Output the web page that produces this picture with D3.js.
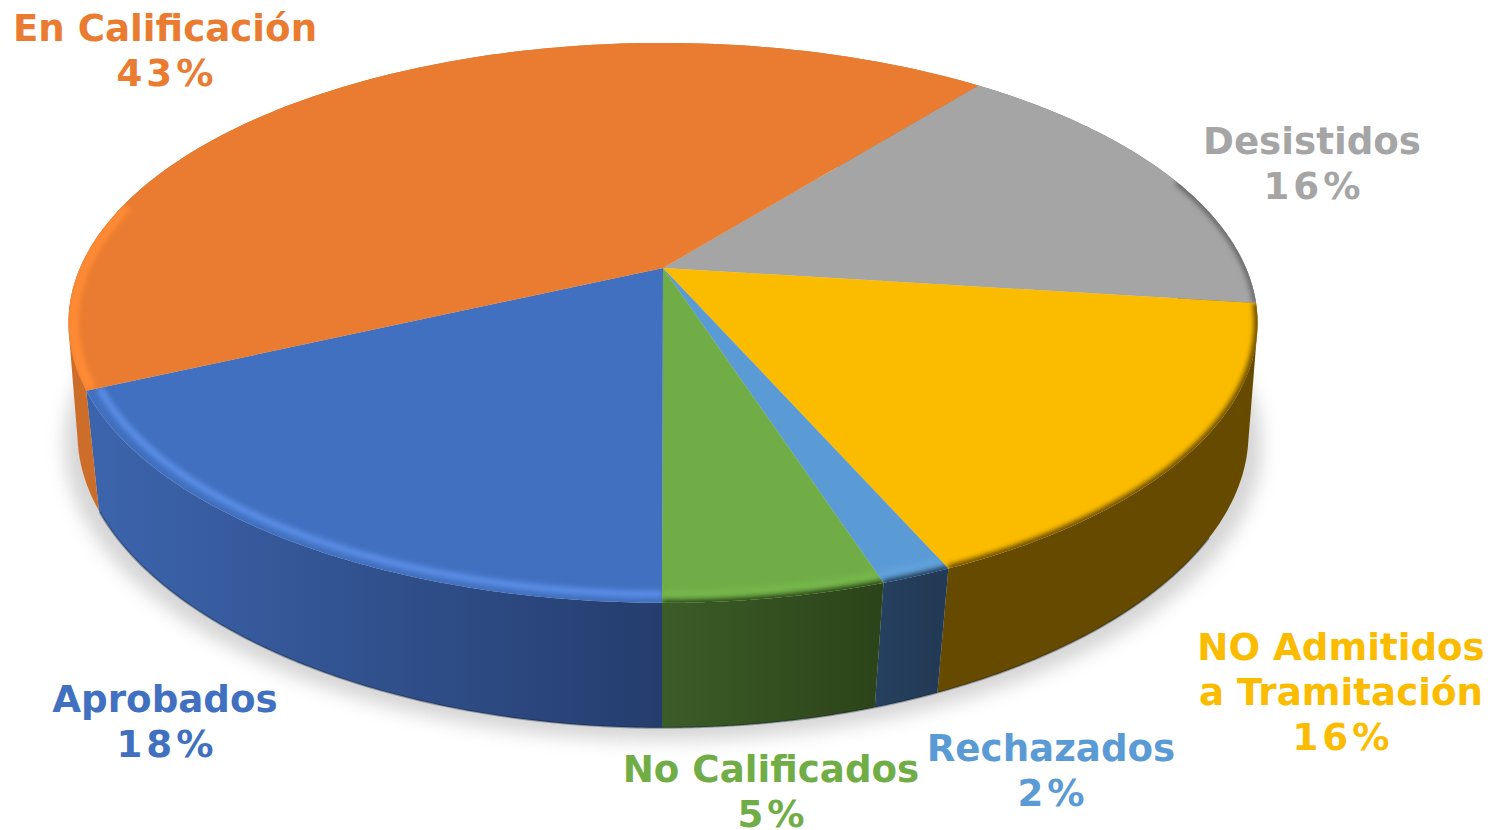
<!DOCTYPE html>
<html>
<head>
<meta charset="utf-8">
<script src="https://cdn.jsdelivr.net/npm/d3@7"></script>
<style>
  html, body { margin: 0; padding: 0; background: #fff; }
  svg { display: block; }
  text { font-family: "DejaVu Sans", sans-serif; font-weight: bold; font-size: 37.2px; text-anchor: middle; }
</style>
</head>
<body>
<svg class="s"></svg>
<script>
// slices run clockwise, starting from the orange/gray border at the back
var categories = ['Desistidos', 'NO Admitidos a Tramitación', 'Rechazados', 'No Calificados', 'Aprobados', 'En Calificación'];
var values = [16.3, 16.4, 1.6, 5.0, 18.1, 42.6];
var labelLines = [['Desistidos'], ['NO Admitidos', 'a Tramitación'], ['Rechazados'], ['No Calificados'], ['Aprobados'], ['En Calificación']];

var topColors = ['#a5a5a5', '#fbbc00', '#5b9bd5', '#70ad47', '#4170c0', '#e97c30'];
var sideLeft = ['#6a6a6a', '#664a00', '#264060', '#3c5c28', '#3c64ac', '#cc6e2a'];
var sideRight = ['#6a6a6a', '#664a00', '#223a55', '#2c4419', '#253d6e', '#cc6e2a'];
var rimColors = [null, null, '#62a2dc', '#76b84b', '#5a8ee6', '#ff8a36'];
var labelX = [1312, 1341, 1051, 771, 165, 165];
var labelY = [154, 660, 761, 782, 712, 41];

var w = 1504;
var h = 830;
var toRad = Math.PI / 180;

var svg = d3.select('.s').attr('width', w).attr('height', h);
var defs = svg.append('defs');

defs.append('filter').attr('id', 'shadowBlur')
  .attr('filterUnits', 'userSpaceOnUse').attr('x', 0).attr('y', 0).attr('width', w).attr('height', h)
  .append('feGaussianBlur').attr('stdDeviation', 9);
defs.append('filter').attr('id', 'rimBlur')
  .attr('filterUnits', 'userSpaceOnUse').attr('x', 0).attr('y', 0).attr('width', w).attr('height', h)
  .append('feGaussianBlur').attr('stdDeviation', 2.8);

// perspective disc: near edge larger than the far edge
var k = 0.196;
var topDisc = {cx: 663, cy: 268, b: 583, a: 269.2, kx: 0.196};
var botDisc = {cx: 663, cy: 385, b: 577, a: 275.6, kx: 0.17};

var project = function(disc, angle, r){
  var u = r * Math.sin(angle);
  var v = -r * Math.cos(angle);
  return [disc.cx + disc.b * u / (1 - disc.kx * v), disc.cy + disc.a * v / (1 - k * v)];
};

var arcPoints = function(disc, a0, a1, r){
  return d3.range(0, 121).map(function(i){
    return project(disc, a0 + (a1 - a0) * i / 120, r);
  });
};

var line = d3.line();

// wall as one path of small quads, so the silhouette stays straight between the two discs
var wallPath = function(a0, a1){
  var t = arcPoints(topDisc, a0, a1, 1);
  var b = arcPoints(botDisc, a0, a1, 1);
  var out = '';
  for(var i = 0; i < t.length - 1; i++){
    var quad = [t[i], t[i + 1], b[i + 1], b[i]];
    if(d3.polygonArea(quad) < 0){ quad.reverse(); }
    out += line(quad) + 'Z';
  }
  return out;
};

var start = 38.6 * toRad;
var pie = d3.pie().sort(null).startAngle(start).endAngle(start + 2 * Math.PI);
var slices = pie(values);

// soft shadow on the floor
var shadowDisc = {cx: 663, cy: 396, b: 590, a: 277, kx: 0.17};
svg.append('path')
  .attr('d', line(arcPoints(shadowDisc, 0, 2 * Math.PI, 1)) + 'Z')
  .attr('fill', '#8c8c8c')
  .attr('opacity', 0.36)
  .attr('filter', 'url(#shadowBlur)');

// side walls
slices.forEach(function(d, i){
  var grad = defs.append('linearGradient').attr('id', 'side' + i)
    .attr('gradientUnits', 'userSpaceOnUse');
  var ends = [project(botDisc, d.startAngle, 1)[0], project(botDisc, d.endAngle, 1)[0]];
  grad.attr('x1', d3.min(ends)).attr('x2', d3.max(ends)).attr('y1', 0).attr('y2', 0);
  grad.append('stop').attr('offset', 0).attr('stop-color', sideLeft[i]);
  grad.append('stop').attr('offset', 1).attr('stop-color', sideRight[i]);

  svg.append('path')
    .attr('d', wallPath(d.startAngle, d.endAngle))
    .attr('fill', 'url(#side' + i + ')');
});

// dark line along the foot of the wall
svg.append('path')
  .attr('d', line(arcPoints(botDisc, 120 * toRad, 245 * toRad, 1)))
  .attr('fill', 'none')
  .attr('stroke', '#0f1c30')
  .attr('stroke-width', 2)
  .attr('opacity', 0.35);

// top faces with bevel
slices.forEach(function(d, i){
  var face = [[topDisc.cx, topDisc.cy]].concat(arcPoints(topDisc, d.startAngle, d.endAngle, 1));
  defs.append('clipPath').attr('id', 'face' + i)
    .append('path').attr('d', line(face) + 'Z');

  svg.append('path')
    .attr('d', line(face) + 'Z')
    .attr('fill', topColors[i]);

  var rim = svg.append('g').attr('clip-path', 'url(#face' + i + ')')
    .append('g').attr('filter', 'url(#rimBlur)');

  // visible part of the edge only
  var a0 = Math.max(d.startAngle, 70 * toRad);
  var a1 = Math.min(d.endAngle, 284 * toRad);
  if(a1 <= a0){ return; }

  if(a0 < 246 * toRad && i != 4){
    rim.append('path')
      .attr('d', line(arcPoints(topDisc, a0, Math.min(a1, 246 * toRad), 1)))
      .attr('fill', 'none')
      .attr('stroke', sideRight[i])
      .attr('stroke-width', 7);
  }
  if(rimColors[i]){
    rim.append('path')
      .attr('d', line(arcPoints(topDisc, a0, a1, i == 5 ? 0.992 : 0.979)))
      .attr('fill', 'none')
      .attr('stroke', rimColors[i])
      .attr('stroke-width', i == 5 ? 11 : 7);
  }
});

// labels, the percent line is spaced wider to match the wide digits
slices.forEach(function(d, i){
  var lines = labelLines[i].concat([Math.round(d.value) + '%']);
  svg.append('text')
    .attr('fill', topColors[i])
    .selectAll('tspan')
    .data(lines)
    .enter()
    .append('tspan')
    .attr('x', function(t, j){ return labelX[i] + (j == lines.length - 1 ? 2 : 0); })
    .attr('y', function(t, j){ return labelY[i] + j * 45.2; })
    .attr('letter-spacing', function(t, j){ return j == lines.length - 1 ? 4 : 0; })
    .text(function(t){ return t; });
});
</script>
</body>
</html>
